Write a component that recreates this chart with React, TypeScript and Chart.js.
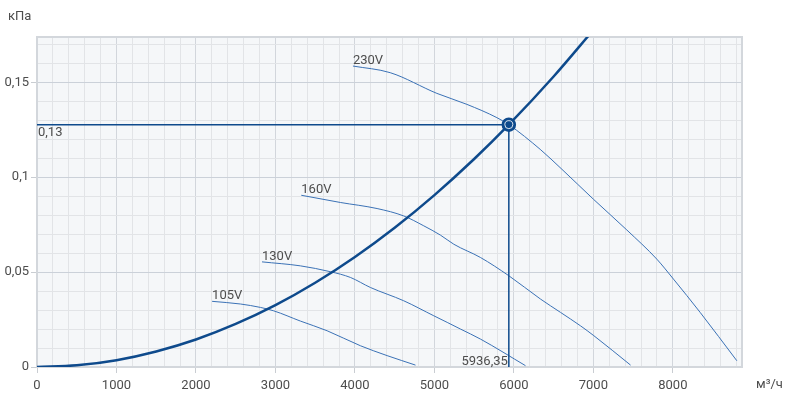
import React, { useEffect, useRef } from 'react';
import { Chart, registerables } from 'chart.js';

Chart.register(...registerables);

// ---- Data ----
const xAxisTitle = 'м³/ч';
const yAxisTitle = 'кПа';

const systemFlow = [0, 500, 1000, 1500, 2000, 2500, 3000, 3500, 4000, 4500, 5000, 5500, 5936.35, 6500, 7000];
const systemPressure = [0, 0.0009, 0.0036, 0.0082, 0.0145, 0.0227, 0.0326, 0.0444, 0.058, 0.0734, 0.0906, 0.1096, 0.1277, 0.1531, 0.1776];

const fanNames = ['230V', '160V', '130V', '105V'];
const fan230Flow = [3975, 4444, 5031, 5409, 5786, 5936, 6331, 6604, 7001, 7421, 7799, 8008, 8343, 8805];
const fan230Pressure = [0.1586, 0.1551, 0.1442, 0.1384, 0.1314, 0.1277, 0.1147, 0.1042, 0.0884, 0.0722, 0.0568, 0.0463, 0.0288, 0.0033];
const fan160Flow = [3325, 3817, 4279, 4614, 4866, 5076, 5244, 5580, 5936, 6335, 6586, 6838, 7006, 7468];
const fan160Pressure = [0.0905, 0.0867, 0.0835, 0.0796, 0.0744, 0.0695, 0.0647, 0.0577, 0.0481, 0.0358, 0.0288, 0.0217, 0.0165, 0.001];
const fan130Flow = [2831, 3314, 3692, 3943, 4195, 4614, 4992, 5161, 5328, 5580, 6146];
const fan130Pressure = [0.0554, 0.0533, 0.0502, 0.0472, 0.0419, 0.0349, 0.027, 0.0235, 0.02, 0.0147, 0.0007];
const fan105Flow = [2203, 2559, 2811, 2978, 3314, 3650, 4069, 4405, 4762];
const fan105Pressure = [0.0346, 0.0332, 0.0314, 0.0296, 0.0242, 0.0191, 0.0112, 0.006, 0.001];

const opFlow = 5936.35;
const opPressure = 0.1277;
const opFlowLabel = '5936,35';
const opPressureLabel = '0,13';

const xMax = 8870;
const yMax = 0.1739;

// ---- Styles ----
const DARK = '#0e4a8c';
const FAN = '#3b72b6';
const FONT = 'Roboto, "Noto Sans", Arial, sans-serif';
const TEXT = '#4d4d4d';

const toPts = (xs: number[], ys: number[]) => xs.map((x, i) => ({ x, y: ys[i] }));
const isMajorX = (v: number) => Math.abs(v % 1000) < 1e-6;
const isMajorY = (v: number) => Math.round(v * 100) % 5 === 0;

const decorPlugin = {
  id: 'decor',
  beforeDraw(chart: any) {
    const { ctx, chartArea: a } = chart;
    ctx.save();
    ctx.fillStyle = '#f5f7f9';
    ctx.fillRect(a.left, a.top, a.right - a.left, a.bottom - a.top);
    ctx.restore();
  },
  beforeDatasetsDraw(chart: any) {
    const { ctx, chartArea: a } = chart;
    ctx.save();
    ctx.strokeStyle = '#d3d7dc';
    ctx.lineWidth = 2;
    ctx.strokeRect(a.left, a.top, a.right - a.left, a.bottom - a.top);
    ctx.restore();
  },
  afterDatasetsDraw(chart: any) {
    const { ctx, chartArea: a, scales } = chart;
    const xs = scales.x;
    const ys = scales.y;
    ctx.save();
    ctx.font = `13px ${FONT}`;
    ctx.fillStyle = TEXT;
    ctx.textBaseline = 'alphabetic';
    ctx.textAlign = 'left';
    const starts = [
      [fan230Flow[0], fan230Pressure[0]],
      [fan160Flow[0], fan160Pressure[0]],
      [fan130Flow[0], fan130Pressure[0]],
      [fan105Flow[0], fan105Pressure[0]],
    ];
    starts.forEach(([fx, fy], i) => {
      ctx.fillText(fanNames[i], xs.getPixelForValue(fx), ys.getPixelForValue(fy) - 2);
    });
    // operating point labels
    const py = ys.getPixelForValue(opPressure);
    ctx.textBaseline = 'top';
    ctx.fillText(opPressureLabel, a.left + 1, py + 2);
    const px = xs.getPixelForValue(opFlow);
    ctx.textAlign = 'right';
    ctx.textBaseline = 'alphabetic';
    ctx.fillText(opFlowLabel, px - 1, a.bottom - 2);
    // axis titles
    ctx.textAlign = 'left';
    ctx.textBaseline = 'middle';
    ctx.fillText(yAxisTitle, 8, 17);
    ctx.fillText(xAxisTitle, 756, 385);
    ctx.restore();
  },
};

export default function App() {
  const ref = useRef<HTMLCanvasElement | null>(null);
  useEffect(() => {
    if (!ref.current) return;
    const fanDs = (xs: number[], ys: number[]) => ({
      data: toPts(xs, ys),
      borderColor: FAN,
      borderWidth: 1,
      pointRadius: 0,
      cubicInterpolationMode: 'monotone' as const,
      fill: false,
      order: 4,
    });
    const chart = new Chart(ref.current, {
      type: 'line',
      data: {
        datasets: [
          {
            data: [{ x: opFlow, y: opPressure }],
            borderColor: 'rgba(255,255,255,0.85)',
            backgroundColor: DARK,
            borderWidth: 1,
            pointRadius: 4,
            showLine: false,
            order: 0,
          },
          {
            data: [{ x: opFlow, y: opPressure }],
            borderColor: DARK,
            backgroundColor: DARK,
            borderWidth: 1.5,
            pointRadius: 6.5,
            showLine: false,
            order: 1,
          },
          {
            data: toPts(systemFlow, systemPressure),
            borderColor: DARK,
            borderWidth: 2.5,
            pointRadius: 0,
            cubicInterpolationMode: 'monotone',
            fill: false,
            order: 2,
          },
          {
            data: [{ x: 0, y: opPressure }, { x: opFlow, y: opPressure }],
            borderColor: DARK,
            borderWidth: 1.5,
            pointRadius: 0,
            order: 3,
          },
          {
            data: [{ x: opFlow, y: opPressure }, { x: opFlow, y: 0 }],
            borderColor: DARK,
            borderWidth: 1.5,
            pointRadius: 0,
            order: 3,
          },
          fanDs(fan230Flow, fan230Pressure),
          fanDs(fan160Flow, fan160Pressure),
          fanDs(fan130Flow, fan130Pressure),
          fanDs(fan105Flow, fan105Pressure),
        ],
      },
      options: {
        responsive: false,
        animation: false,
        events: [],
        layout: { padding: { top: 37, right: 47, left: 0, bottom: 0 } },
        plugins: { legend: { display: false }, tooltip: { enabled: false } },
        scales: {
          x: {
            type: 'linear',
            min: 0,
            max: xMax,
            afterFit: (s: any) => { s.height = 30; },
            afterBuildTicks: (s: any) => {
              const t = [];
              for (let v = 0; v <= 8800; v += 200) t.push({ value: v });
              s.ticks = t;
            },
            border: { display: false },
            grid: {
              color: (c: any) => (isMajorX(c.tick.value) ? '#d2d6dc' : '#e2e4e7'),
              tickColor: (c: any) => (isMajorX(c.tick.value) ? '#c9cdd2' : 'rgba(0,0,0,0)'),
              tickLength: 6,
              lineWidth: 1,
            },
            ticks: {
              autoSkip: false,
              maxRotation: 0,
              padding: 5,
              color: TEXT,
              font: { family: FONT, size: 13 },
              callback: (v: any) => (isMajorX(Number(v)) ? String(v) : ''),
            },
          },
          y: {
            type: 'linear',
            min: 0,
            max: yMax,
            afterFit: (s: any) => { s.width = 37; },
            afterBuildTicks: (s: any) => {
              const t = [];
              for (let i = 0; i <= 17; i++) t.push({ value: i / 100 });
              s.ticks = t;
            },
            border: { display: false },
            grid: {
              color: (c: any) => (isMajorY(c.tick.value) ? '#cbd1d9' : '#e2e4e7'),
              tickColor: (c: any) => (isMajorY(c.tick.value) ? '#c9cdd2' : 'rgba(0,0,0,0)'),
              tickLength: 6,
              lineWidth: 1,
            },
            ticks: {
              autoSkip: false,
              padding: 2,
              color: TEXT,
              font: { family: FONT, size: 13 },
              callback: (v: any) => (isMajorY(Number(v)) ? String(v).replace('.', ',') : ''),
            },
          },
        },
      },
      plugins: [decorPlugin],
    });
    return () => chart.destroy();
  }, []);
  return (
    <div style={{ position: 'fixed', left: 0, top: 0, width: 789, height: 397, background: '#fff' }}>
      <canvas ref={ref} width={789} height={397} style={{ display: 'block' }} />
    </div>
  );
}
